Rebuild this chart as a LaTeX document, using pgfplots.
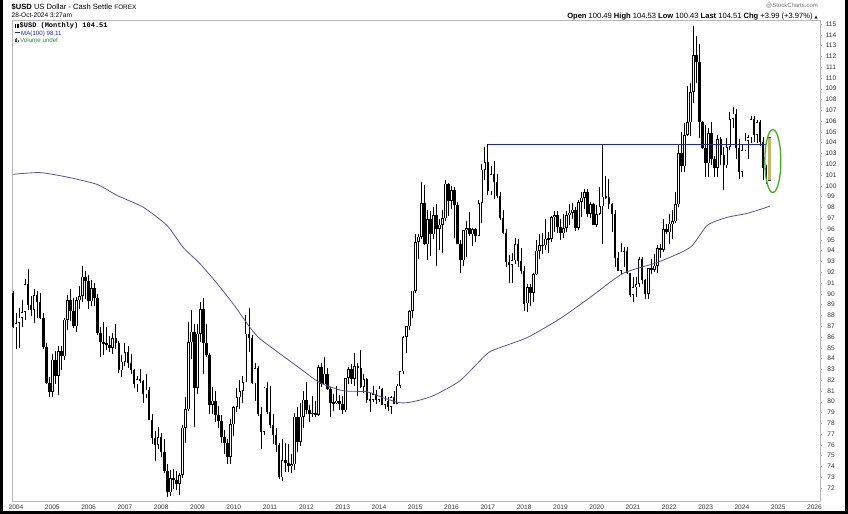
\documentclass[border=0pt]{standalone}
\usepackage{fontspec}
\setmainfont{Liberation Sans}
\newfontfamily\monofont{Liberation Mono}
\newfontfamily\symfont{DejaVu Sans}
\usepackage{pgfplots}
\usepackage{pgfplotstable}
\pgfplotsset{compat=1.18}
\definecolor{maline}{RGB}{85,85,150}
\definecolor{resline}{RGB}{30,40,160}
\definecolor{ellgreen}{RGB}{70,170,40}
\definecolor{lastbar}{RGB}{196,178,110}
\definecolor{volgreen}{RGB}{50,140,60}

% monthly OHLC, $USD (Dec 2003 - Oct 2024)
\pgfplotstableread{
Y M O H L C
2003 12 90.1 90.3 86.8 86.9
2004 1 86.9 88.2 84.9 87.3
2004 2 87.3 88.7 85.0 87.8
2004 3 87.8 89.4 86.9 88.3
2004 4 88.3 91.4 87.6 90.9
2004 5 90.9 92.3 88.5 89.0
2004 6 89.0 89.8 87.9 88.5
2004 7 88.5 90.4 87.3 89.9
2004 8 89.9 90.3 87.8 89.2
2004 9 89.2 90.1 87.7 87.8
2004 10 87.8 88.2 84.9 85.1
2004 11 85.1 85.4 81.6 81.7
2004 12 81.7 82.3 80.4 80.9
2005 1 80.9 84.4 80.4 83.9
2005 2 83.9 84.7 81.6 82.4
2005 3 82.4 85.2 80.6 84.7
2005 4 84.7 85.2 82.9 84.2
2005 5 84.2 87.8 83.9 87.6
2005 6 87.6 89.9 86.6 89.4
2005 7 89.4 90.4 87.5 88.4
2005 8 88.4 89.6 86.8 87.0
2005 9 87.0 89.7 86.5 89.4
2005 10 89.4 90.7 88.6 89.8
2005 11 89.8 92.6 89.2 91.6
2005 12 91.6 92.1 89.5 91.2
2006 1 91.2 91.7 88.6 89.3
2006 2 89.3 91.3 88.9 90.5
2006 3 90.5 91.0 88.9 89.6
2006 4 89.6 90.0 86.2 86.4
2006 5 86.4 86.9 84.1 85.5
2006 6 85.5 87.4 84.3 85.4
2006 7 85.4 86.9 84.8 85.3
2006 8 85.3 86.1 84.6 85.0
2006 9 85.0 86.4 84.4 85.9
2006 10 85.9 87.2 84.9 85.4
2006 11 85.4 85.6 82.7 82.9
2006 12 82.9 84.3 82.3 83.7
2007 1 83.7 85.4 83.3 84.6
2007 2 84.6 85.2 83.1 83.6
2007 3 83.6 84.4 82.6 82.9
2007 4 82.9 83.0 81.3 81.6
2007 5 81.6 82.4 80.9 82.1
2007 6 82.1 83.0 81.7 81.9
2007 7 81.9 82.0 79.9 80.7
2007 8 80.7 82.6 80.3 81.1
2007 9 81.1 81.4 78.3 78.3
2007 10 78.3 78.9 76.1 76.6
2007 11 76.6 77.3 74.5 76.0
2007 12 76.0 77.7 75.6 76.7
2008 1 76.7 77.1 74.9 75.3
2008 2 75.3 76.5 73.4 73.6
2008 3 73.6 74.2 71.2 71.6
2008 4 71.6 73.7 71.3 72.9
2008 5 72.9 73.8 71.9 72.7
2008 6 72.7 73.6 71.8 72.4
2008 7 72.4 73.4 71.4 73.2
2008 8 73.2 77.8 72.9 77.6
2008 9 77.6 80.4 76.2 79.3
2008 10 79.3 87.4 79.1 85.5
2008 11 85.5 88.5 84.0 86.5
2008 12 86.5 87.2 77.7 81.3
2009 1 81.3 87.2 80.7 86.3
2009 2 86.3 89.2 85.5 88.6
2009 3 88.6 89.6 82.6 85.4
2009 4 85.4 87.2 84.1 84.3
2009 5 84.3 84.5 78.9 79.7
2009 6 79.7 81.4 78.9 80.1
2009 7 80.1 81.0 78.1 78.8
2009 8 78.8 79.6 77.6 78.2
2009 9 78.2 78.8 76.2 76.7
2009 10 76.7 77.4 75.2 76.2
2009 11 76.2 76.5 74.2 74.9
2009 12 74.9 78.4 74.2 77.9
2010 1 77.9 79.6 76.8 79.5
2010 2 79.5 81.3 79.0 80.4
2010 3 80.4 82.0 79.3 81.0
2010 4 81.0 82.4 79.9 81.8
2010 5 81.8 88.0 81.8 86.3
2010 6 86.3 88.7 84.6 85.9
2010 7 85.9 86.2 81.6 81.7
2010 8 81.7 83.6 80.1 83.1
2010 9 83.1 83.3 78.7 78.9
2010 10 78.9 79.5 75.6 77.2
2010 11 77.2 81.4 76.9 81.3
2010 12 81.3 81.8 78.9 79.0
2011 1 79.0 81.5 77.6 77.8
2011 2 77.8 78.9 76.1 76.9
2011 3 76.9 77.6 75.3 76.0
2011 4 76.0 76.2 72.8 73.0
2011 5 73.0 76.5 72.7 74.6
2011 6 74.6 76.2 73.5 74.3
2011 7 74.3 76.1 73.5 74.0
2011 8 74.0 75.2 73.4 74.2
2011 9 74.2 79.0 73.7 78.6
2011 10 78.6 79.5 75.3 76.3
2011 11 76.3 79.9 75.9 78.6
2011 12 78.6 81.0 77.6 80.2
2012 1 80.2 81.8 78.9 79.2
2012 2 79.2 79.7 78.1 78.9
2012 3 78.9 80.5 78.6 79.0
2012 4 79.0 80.1 78.6 78.8
2012 5 78.8 83.4 78.7 83.2
2012 6 83.2 83.6 81.4 81.6
2012 7 81.6 84.1 81.6 82.6
2012 8 82.6 83.1 81.1 81.2
2012 9 81.2 81.4 78.6 79.9
2012 10 79.9 80.7 79.1 79.9
2012 11 79.9 81.5 79.8 80.1
2012 12 80.1 80.6 79.2 79.8
2013 1 79.8 80.5 78.9 79.2
2013 2 79.2 82.2 79.0 82.2
2013 3 82.2 83.2 81.6 83.0
2013 4 83.0 83.5 81.6 82.1
2013 5 82.1 84.5 81.5 83.3
2013 6 83.3 83.6 80.5 83.1
2013 7 83.1 84.8 81.3 81.4
2013 8 81.4 82.6 80.8 82.1
2013 9 82.1 82.2 79.9 80.2
2013 10 80.2 80.8 79.0 80.2
2013 11 80.2 81.5 80.0 80.7
2013 12 80.7 81.1 79.8 80.2
2014 1 80.2 81.5 80.0 81.2
2014 2 81.2 81.3 79.7 79.7
2014 3 79.7 80.5 79.3 80.1
2014 4 80.1 80.4 79.1 79.5
2014 5 79.5 80.5 78.9 80.4
2014 6 80.4 81.0 79.8 79.8
2014 7 79.8 81.6 79.8 81.5
2014 8 81.5 82.8 81.3 82.8
2014 9 82.8 86.1 82.6 86.0
2014 10 86.0 87.0 84.5 87.0
2014 11 87.0 88.5 86.6 88.4
2014 12 88.4 90.3 87.8 90.3
2015 1 90.3 95.5 90.1 94.8
2015 2 94.8 95.5 93.2 95.3
2015 3 95.3 100.4 95.1 98.4
2015 4 98.4 100.1 94.5 94.6
2015 5 94.6 97.8 93.1 96.9
2015 6 96.9 97.7 93.5 95.5
2015 7 95.5 98.0 95.1 97.3
2015 8 97.3 98.3 92.6 96.0
2015 9 96.0 96.9 94.1 96.4
2015 10 96.4 97.8 93.8 97.0
2015 11 97.0 100.5 96.7 100.2
2015 12 100.2 100.3 97.2 98.6
2016 1 98.6 100.0 97.9 99.6
2016 2 99.6 99.9 95.2 98.2
2016 3 98.2 98.5 94.6 94.6
2016 4 94.6 95.0 91.9 93.1
2016 5 93.1 95.9 92.6 95.9
2016 6 95.9 96.7 93.4 96.1
2016 7 96.1 97.6 95.4 95.5
2016 8 95.5 96.1 94.4 96.0
2016 9 96.0 96.1 94.8 95.4
2016 10 95.4 98.7 95.4 98.4
2016 11 98.4 102.0 96.6 101.5
2016 12 101.5 103.6 100.5 102.2
2017 1 102.2 103.85 99.2 99.5
2017 2 99.5 101.8 99.2 101.1
2017 3 101.1 102.3 98.8 100.4
2017 4 100.4 101.1 98.9 99.1
2017 5 99.1 99.4 96.8 97.0
2017 6 97.0 97.8 95.5 95.6
2017 7 95.6 96.0 92.5 92.9
2017 8 92.9 93.6 91.0 92.7
2017 9 92.7 93.8 91.0 93.1
2017 10 93.1 95.2 92.8 94.6
2017 11 94.6 95.1 92.5 93.0
2017 12 93.0 94.2 91.8 92.1
2018 1 92.1 92.6 88.4 89.1
2018 2 89.1 90.9 88.3 90.6
2018 3 90.6 90.9 88.9 90.1
2018 4 90.1 91.9 89.2 91.8
2018 5 91.8 95.0 91.7 94.0
2018 6 94.0 95.5 93.2 94.5
2018 7 94.5 95.6 93.7 94.5
2018 8 94.5 96.9 94.1 95.1
2018 9 95.1 95.7 93.8 95.1
2018 10 95.1 97.2 94.8 97.1
2018 11 97.1 97.7 95.7 97.3
2018 12 97.3 97.7 95.6 96.2
2019 1 96.2 96.9 95.0 95.6
2019 2 95.6 97.4 95.2 96.1
2019 3 96.1 97.7 95.7 97.3
2019 4 97.3 98.3 96.4 97.5
2019 5 97.5 98.4 96.9 97.8
2019 6 97.8 98.0 95.8 96.1
2019 7 96.1 98.7 95.9 98.5
2019 8 98.5 99.4 97.1 98.9
2019 9 98.9 99.7 97.9 99.4
2019 10 99.4 99.7 97.1 97.4
2019 11 97.4 98.5 97.0 98.3
2019 12 98.3 98.4 96.4 96.4
2020 1 96.4 98.2 96.2 97.4
2020 2 97.4 99.9 97.3 98.1
2020 3 98.1 103.8 94.6 99.0
2020 4 99.0 100.9 98.8 99.0
2020 5 99.0 100.6 97.9 98.3
2020 6 98.3 98.4 95.7 97.4
2020 7 97.4 97.8 92.5 93.3
2020 8 93.3 93.9 92.1 92.1
2020 9 92.1 94.7 91.7 93.9
2020 10 93.9 94.3 92.5 94.0
2020 11 94.0 94.3 91.8 91.9
2020 12 91.9 91.9 89.7 89.9
2021 1 89.9 91.6 89.2 90.6
2021 2 90.6 91.6 89.7 90.9
2021 3 90.9 93.4 90.6 93.2
2021 4 93.2 93.4 90.9 91.3
2021 5 91.3 91.4 89.5 90.0
2021 6 90.0 92.4 89.5 92.4
2021 7 92.4 93.2 91.8 92.2
2021 8 92.2 93.7 92.0 92.6
2021 9 92.6 94.5 91.9 94.2
2021 10 94.2 94.6 93.3 94.1
2021 11 94.1 96.9 93.9 96.0
2021 12 96.0 96.5 95.5 95.7
2022 1 95.7 97.4 94.6 96.5
2022 2 96.5 97.8 95.1 96.7
2022 3 96.7 99.4 96.6 98.3
2022 4 98.3 103.9 98.0 103.0
2022 5 103.0 105.0 101.3 101.8
2022 6 101.8 105.8 101.3 104.7
2022 7 104.7 109.3 104.6 105.9
2022 8 105.9 109.5 104.6 108.7
2022 9 108.7 114.8 107.7 112.1
2022 10 112.1 113.9 109.5 111.5
2022 11 111.5 113.1 104.4 105.9
2022 12 105.9 106.0 103.4 103.5
2023 1 103.5 105.6 100.8 102.1
2023 2 102.1 105.4 100.8 104.9
2023 3 104.9 105.9 101.9 102.5
2023 4 102.5 102.8 100.8 101.7
2023 5 101.7 104.7 100.8 104.3
2023 6 104.3 104.5 101.9 102.9
2023 7 102.9 103.6 99.6 101.9
2023 8 101.9 104.4 101.7 103.6
2023 9 103.6 106.8 103.3 106.2
2023 10 106.2 107.3 105.4 106.7
2023 11 106.7 107.1 102.5 103.5
2023 12 103.5 104.3 100.6 101.3
2024 1 101.3 103.8 100.8 103.3
2024 2 103.3 104.9 103.2 104.2
2024 3 104.2 104.7 102.5 104.5
2024 4 104.5 106.5 104.0 106.2
2024 5 106.2 106.5 104.1 104.7
2024 6 104.7 106.1 104.0 105.9
2024 7 105.9 106.1 103.7 104.1
2024 8 104.1 104.5 100.5 101.7
2024 9 101.7 101.9 100.2 100.8
2024 10 100.49 104.53 100.43 104.51
}\usd

% MA(100)
\pgfplotstableread{
t ma
2003.92 101.07
2004.66 101.23
2005.40 100.82
2006.23 100.14
2006.78 99.12
2007.50 98.03
2008.16 96.33
2008.60 94.32
2009.07 92.78
2009.54 90.95
2009.98 89.08
2010.45 86.86
2010.72 85.84
2011.27 84.45
2011.91 82.87
2012.37 81.76
2013.01 81.02
2013.67 80.92
2014.11 80.37
2014.58 79.90
2014.94 80.00
2015.49 80.55
2016.23 81.94
2016.98 84.45
2017.33 85.01
2018.08 85.94
2018.99 87.70
2019.81 89.65
2020.72 91.88
2021.66 92.90
2022.57 94.29
2023.04 96.33
2023.59 97.08
2024.14 97.45
2024.77 98.11
}\mavals

\begin{document}
\begin{tikzpicture}[x=1bp,y=1bp]
\path[use as bounding box] (0,0) rectangle (848,514);
% screenshot frame
\draw[black, line width=3bp] (1.5,0) -- (1.5,514);
\draw[black, line width=3bp] (0,1.5) -- (848,1.5);
\draw[black, line width=3bp] (846.5,0) -- (846.5,514);

\begin{axis}[
  at={(12bp,13bp)}, anchor=south west,
  scale only axis, width=808bp, height=481bp,
  xmin=2003.89, xmax=2026.15, ymin=70.8, ymax=115.37,
  axis line style={draw=black!28, line width=0.6bp},
  xtick={2004,...,2026},
  ytick={72,...,115},
  ytick pos=right, yticklabel pos=right,
  xtick pos=bottom,
  x tick style={draw=none},
  y tick style={draw=black!35, line width=0.4bp},
  tick align=outside, major tick length=2bp,
  tick label style={font=\fontsize{6.6}{7}\selectfont, text=black!80},
  yticklabel style={anchor=center, xshift=9bp},
  xticklabel style={yshift=2bp},
  /pgf/number format/assume math mode=true,
  /pgf/number format/1000 sep={},
  clip=false,
]
% wicks
\addplot[draw=none, mark=none, forget plot,
  error bars/.cd, y dir=both, y explicit, error mark=none,
  error bar style={line width=0.8bp, draw=black}]
  table[x expr=\thisrow{Y}+(\thisrow{M}-1)/12,
        y expr=(\thisrow{H}+\thisrow{L})/2,
        y error expr=(\thisrow{H}-\thisrow{L})/2] {\usd};
% bodies (outline / filled)
\addplot[draw=none, mark=none, forget plot,
  error bars/.cd, y dir=both, y explicit, error mark=none,
  error bar style={line width=2.6bp, draw=black}]
  table[x expr=\thisrow{Y}+(\thisrow{M}-1)/12,
        y expr=(\thisrow{O}+\thisrow{C})/2,
        y error expr={max(abs(\thisrow{C}-\thisrow{O})/2,0.05)}] {\usd};
% hollow bodies (close above open)
\addplot[draw=none, mark=none, forget plot,
  restrict expr to domain={\thisrow{C}-\thisrow{O}}{0.15:100},
  error bars/.cd, y dir=both, y explicit, error mark=none,
  error bar style={line width=1.2bp, draw=white}]
  table[x expr=\thisrow{Y}+(\thisrow{M}-1)/12,
        y expr=(\thisrow{O}+\thisrow{C})/2,
        y error expr=abs(\thisrow{C}-\thisrow{O})/2-0.06] {\usd};
% current month highlighted
\addplot[draw=none, mark=none, forget plot,
  error bars/.cd, y dir=both, y explicit, error mark=none,
  error bar style={line width=3.4bp, draw=black!75}]
  coordinates {(2024.76,102.5) +- (0,2.01)};
\addplot[draw=none, mark=none, forget plot,
  error bars/.cd, y dir=both, y explicit, error mark=none,
  error bar style={line width=2.4bp, draw=lastbar}]
  coordinates {(2024.76,102.5) +- (0,1.95)};
% MA(100)
\addplot[maline, line width=0.8bp, no marks, smooth, tension=0.4] table[x=t, y=ma] {\mavals};
% resistance line at the 2017 high
\addplot[resline, line width=1.2bp, no marks] coordinates {(2017.0,103.85) (2024.65,103.85)};
% highlight ellipse
\draw[ellgreen, line width=1.3bp] (axis cs:2024.85,102.3) ellipse [x radius=8bp, y radius=31.5bp];
\end{axis}

% header
\node[anchor=base west, inner sep=0] at (11.5,504) {\fontsize{7.6}{8}\selectfont\textbf{\$USD} US Dollar - Cash Settle {\fontsize{6.4}{7}\selectfont FOREX}};
\node[anchor=base west, inner sep=0] at (11.5,496) {\fontsize{6.6}{7}\selectfont 28-Oct-2024 3:27am};
\node[anchor=base east, inner sep=0, text=black!55] at (818,506) {\fontsize{6}{7}\selectfont @StockCharts.com};
\node[anchor=base east, inner sep=0] at (818,495.5) {\fontsize{7.6}{8}\selectfont \textbf{Open} 100.49 \textbf{High} 104.53 \textbf{Low} 100.43 \textbf{Last} 104.51 \textbf{Chg} +3.99 (+3.97\%) {\symfont\fontsize{4}{5}\selectfont ▲}};

% legend inside the chart
\fill[black] (15,486) rectangle (16.2,490);
\draw[black, line width=0.3bp] (17.2,486.5) rectangle (18.4,489.5);
\node[anchor=base west, inner sep=0] at (19.5,486) {\fontsize{7}{7.5}\selectfont\monofont\bfseries \$USD (Monthly) 104.51};
\draw[resline, line width=1bp] (15,481) -- (20,481);
\node[anchor=base west, inner sep=0, text=resline] at (21,478.5) {\fontsize{6.2}{7}\selectfont MA(100) 98.11};
\fill[black!70] (15,471.5) rectangle (15.8,474.5);
\fill[black!70] (16.4,471.5) rectangle (17.2,475.5);
\fill[black!70] (17.8,471.5) rectangle (18.6,473.8);
\node[anchor=base west, inner sep=0, text=volgreen] at (20,471.3) {\fontsize{6.2}{7}\selectfont Volume undef};
\end{tikzpicture}
\end{document}
